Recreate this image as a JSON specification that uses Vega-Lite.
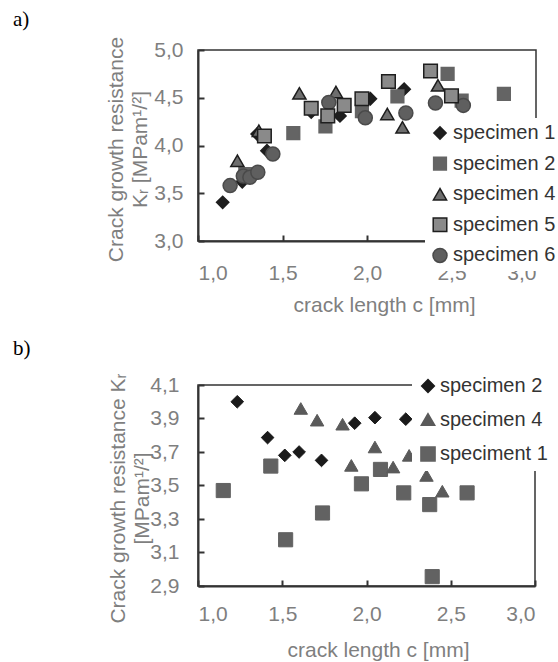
{
  "$schema": "https://vega.github.io/schema/vega-lite/v6.json",
  "padding": {"left": 12, "top": 8, "right": 0, "bottom": 0},
  "background": "white",
  "config": {
    "view": {"stroke": "#333333", "strokeWidth": 1.5},
    "font": "Liberation Sans",
    "axis": {
      "grid": false,
      "domainColor": "#333333",
      "domainWidth": 2,
      "tickColor": "#333333",
      "tickWidth": 2,
      "tickSize": -6,
      "labelColor": "#7f7f7f",
      "labelFontSize": 21,
      "labelFont": "Liberation Sans",
      "titleColor": "#7f7f7f",
      "titleFontSize": 21,
      "titleFont": "Liberation Sans",
      "titleFontWeight": "normal"
    },
    "legend": {
      "fillColor": "white",
      "zindex": 1,
      "labelFontSize": 20,
      "labelFont": "Liberation Sans",
      "labelColor": "#333333",
      "symbolStrokeWidth": 1.5
    }
  },
  "align": "none",
  "spacing": 21,
  "resolve": {
    "scale": {"fill": "independent", "stroke": "independent", "shape": "independent", "size": "independent"},
    "legend": {"fill": "independent", "stroke": "independent", "shape": "independent", "size": "independent"}
  },
  "vconcat": [
    {
      "title": {"text": "a)", "anchor": "start", "frame": "group", "dx": -185, "offset": -11, "baseline": "alphabetic", "font": "Liberation Serif", "fontSize": 21, "fontWeight": "normal", "color": "black"},
      "width": 338,
      "height": 191,
      "data": {"values": [
        {"c": 1.146, "k": 3.405, "s": "specimen 1"},
        {"c": 1.262, "k": 3.62, "s": "specimen 1"},
        {"c": 1.35, "k": 4.12, "s": "specimen 1"},
        {"c": 1.408, "k": 3.945, "s": "specimen 1"},
        {"c": 1.67, "k": 4.35, "s": "specimen 1"},
        {"c": 1.84, "k": 4.31, "s": "specimen 1"},
        {"c": 2.02, "k": 4.49, "s": "specimen 1"},
        {"c": 2.22, "k": 4.59, "s": "specimen 1"},
        {"c": 1.28, "k": 3.7, "s": "specimen 2"},
        {"c": 1.564, "k": 4.13, "s": "specimen 2"},
        {"c": 1.754, "k": 4.2, "s": "specimen 2"},
        {"c": 1.97, "k": 4.36, "s": "specimen 2"},
        {"c": 2.18, "k": 4.515, "s": "specimen 2"},
        {"c": 2.477, "k": 4.75, "s": "specimen 2"},
        {"c": 2.56, "k": 4.47, "s": "specimen 2"},
        {"c": 2.81, "k": 4.54, "s": "specimen 2"},
        {"c": 1.233, "k": 3.84, "s": "specimen 4"},
        {"c": 1.36, "k": 4.155, "s": "specimen 4"},
        {"c": 1.6, "k": 4.546, "s": "specimen 4"},
        {"c": 1.816, "k": 4.56, "s": "specimen 4"},
        {"c": 2.12, "k": 4.33, "s": "specimen 4"},
        {"c": 2.21, "k": 4.19, "s": "specimen 4"},
        {"c": 2.42, "k": 4.63, "s": "specimen 4"},
        {"c": 1.19, "k": 3.58, "s": "specimen 6"},
        {"c": 1.268, "k": 3.68, "s": "specimen 6"},
        {"c": 1.307, "k": 3.667, "s": "specimen 6"},
        {"c": 1.354, "k": 3.72, "s": "specimen 6"},
        {"c": 1.443, "k": 3.91, "s": "specimen 6"},
        {"c": 1.774, "k": 4.45, "s": "specimen 6"},
        {"c": 1.99, "k": 4.29, "s": "specimen 6"},
        {"c": 2.23, "k": 4.34, "s": "specimen 6"},
        {"c": 2.405, "k": 4.445, "s": "specimen 6"},
        {"c": 2.57, "k": 4.42, "s": "specimen 6"},
        {"c": 1.393, "k": 4.1, "s": "specimen 5"},
        {"c": 1.67, "k": 4.39, "s": "specimen 5"},
        {"c": 1.768, "k": 4.31, "s": "specimen 5"},
        {"c": 1.865, "k": 4.42, "s": "specimen 5"},
        {"c": 1.97, "k": 4.49, "s": "specimen 5"},
        {"c": 2.127, "k": 4.67, "s": "specimen 5"},
        {"c": 2.376, "k": 4.78, "s": "specimen 5"},
        {"c": 2.5, "k": 4.52, "s": "specimen 5"}
      ]},
      "mark": {"type": "point", "filled": true, "opacity": 1, "strokeWidth": 1.5},
      "encoding": {
        "x": {"field": "c", "type": "quantitative",
          "scale": {"domain": [1, 3], "nice": false, "zero": false},
          "axis": {"values": [1, 1.5, 2, 2.5, 3], "labelExpr": "replace(format(datum.value, '.1f'), '.', ',')", "labelPadding": 27, "title": "crack length c [mm]", "titleX": 186, "titleY": 70, "titleBaseline": "alphabetic", "titleAlign": "center"}},
        "y": {"field": "k", "type": "quantitative",
          "scale": {"domain": [3, 5], "nice": false, "zero": false},
          "axis": {"values": [3, 3.5, 4, 4.5, 5], "labelExpr": "replace(format(datum.value, '.1f'), '.', ',')", "labelPadding": 21, "title": ["Crack growth resistance", "Kᵣ [MPam¹/²]"], "titleX": -82, "titleY": 99, "titleAngle": 270, "titleBaseline": "middle", "titleAlign": "center", "titleLineHeight": 24}},
        "fill": {"field": "s", "type": "nominal",
          "scale": {"domain": ["specimen 1", "specimen 2", "specimen 4", "specimen 5", "specimen 6"], "range": ["#1e1e1e", "#646464", "#6e6e6e", "#8a8a8a", "#5f5f5f"]},
          "legend": {"orient": "none", "title": null, "legendX": 227, "legendY": 68, "padding": 5, "rowPadding": 10.6, "labelOffset": 3}},
        "stroke": {"field": "s", "type": "nominal",
          "scale": {"domain": ["specimen 1", "specimen 2", "specimen 4", "specimen 5", "specimen 6"], "range": ["#1e1e1e", "#646464", "#1e1e1e", "#1e1e1e", "#4a4a4a"]},
          "legend": {"orient": "none", "title": null, "legendX": 227, "legendY": 68, "padding": 5, "rowPadding": 10.6, "labelOffset": 3}},
        "shape": {"field": "s", "type": "nominal",
          "scale": {"domain": ["specimen 1", "specimen 2", "specimen 4", "specimen 5", "specimen 6"], "range": ["diamond", "square", "triangle-up", "square", "circle"]},
          "legend": {"orient": "none", "title": null, "legendX": 227, "legendY": 68, "padding": 5, "rowPadding": 10.6, "labelOffset": 3}},
        "size": {"field": "s", "type": "nominal",
          "scale": {"domain": ["specimen 1", "specimen 2", "specimen 4", "specimen 5", "specimen 6"], "range": [150, 196, 225, 170, 196]},
          "legend": {"orient": "none", "title": null, "legendX": 227, "legendY": 68, "padding": 5, "rowPadding": 10.6, "labelOffset": 3}}
      }
    },
    {
      "title": {"text": "b)", "anchor": "start", "frame": "group", "dx": -185, "offset": -6, "baseline": "alphabetic", "font": "Liberation Serif", "fontSize": 21, "fontWeight": "normal", "color": "black"},
      "width": 337,
      "height": 201,
      "data": {"values": [
        {"c": 1.15, "k": 3.47, "s": "speciment 1"},
        {"c": 1.432, "k": 3.616, "s": "speciment 1"},
        {"c": 1.52, "k": 3.176, "s": "speciment 1"},
        {"c": 1.739, "k": 3.336, "s": "speciment 1"},
        {"c": 1.97, "k": 3.51, "s": "speciment 1"},
        {"c": 2.083, "k": 3.596, "s": "speciment 1"},
        {"c": 2.221, "k": 3.456, "s": "speciment 1"},
        {"c": 2.375, "k": 3.386, "s": "speciment 1"},
        {"c": 2.39, "k": 2.956, "s": "speciment 1"},
        {"c": 2.597, "k": 3.456, "s": "speciment 1"},
        {"c": 1.61, "k": 3.96, "s": "specimen 4"},
        {"c": 1.707, "k": 3.89, "s": "specimen 4"},
        {"c": 1.858, "k": 3.866, "s": "specimen 4"},
        {"c": 1.91, "k": 3.62, "s": "specimen 4"},
        {"c": 2.05, "k": 3.73, "s": "specimen 4"},
        {"c": 2.158, "k": 3.61, "s": "specimen 4"},
        {"c": 2.253, "k": 3.68, "s": "specimen 4"},
        {"c": 2.356, "k": 3.56, "s": "specimen 4"},
        {"c": 2.45, "k": 3.466, "s": "specimen 4"},
        {"c": 1.233, "k": 4.0, "s": "specimen 2"},
        {"c": 1.413, "k": 3.786, "s": "specimen 2"},
        {"c": 1.515, "k": 3.68, "s": "specimen 2"},
        {"c": 1.6, "k": 3.7, "s": "specimen 2"},
        {"c": 1.733, "k": 3.65, "s": "specimen 2"},
        {"c": 1.93, "k": 3.872, "s": "specimen 2"},
        {"c": 2.05, "k": 3.905, "s": "specimen 2"},
        {"c": 2.233, "k": 3.896, "s": "specimen 2"}
      ]},
      "mark": {"type": "point", "filled": true, "opacity": 1, "strokeWidth": 1},
      "encoding": {
        "x": {"field": "c", "type": "quantitative",
          "scale": {"domain": [1, 3], "nice": false, "zero": false},
          "axis": {"values": [1, 1.5, 2, 2.5, 3], "labelExpr": "replace(format(datum.value, '.1f'), '.', ',')", "labelPadding": 23, "title": "crack length c [mm]", "titleX": 180, "titleY": 70, "titleBaseline": "alphabetic", "titleAlign": "center"}},
        "y": {"field": "k", "type": "quantitative",
          "scale": {"domain": [2.9, 4.1], "nice": false, "zero": false},
          "axis": {"values": [2.9, 3.1, 3.3, 3.5, 3.7, 3.9, 4.1], "labelExpr": "replace(format(datum.value, '.1f'), '.', ',')", "labelPadding": 25, "title": ["Crack growth resistance Kᵣ", "[MPam¹/²]"], "titleX": -80, "titleY": 113, "titleAngle": 270, "titleBaseline": "middle", "titleAlign": "center", "titleLineHeight": 24}},
        "fill": {"field": "s", "type": "nominal",
          "scale": {"domain": ["specimen 2", "specimen 4", "speciment 1"], "range": ["#1a1a1a", "#5a5a5a", "#626262"]},
          "legend": {"orient": "none", "title": null, "legendX": 214, "legendY": -15, "padding": 6, "rowPadding": 13.5, "labelOffset": 2}},
        "stroke": {"field": "s", "type": "nominal",
          "scale": {"domain": ["specimen 2", "specimen 4", "speciment 1"], "range": ["#1a1a1a", "#5a5a5a", "#626262"]},
          "legend": {"orient": "none", "title": null, "legendX": 214, "legendY": -15, "padding": 6, "rowPadding": 13.5, "labelOffset": 2}},
        "shape": {"field": "s", "type": "nominal",
          "scale": {"domain": ["specimen 2", "specimen 4", "speciment 1"], "range": ["diamond", "triangle-up", "square"]},
          "legend": {"orient": "none", "title": null, "legendX": 214, "legendY": -15, "padding": 6, "rowPadding": 13.5, "labelOffset": 2}},
        "size": {"field": "s", "type": "nominal",
          "scale": {"domain": ["specimen 2", "specimen 4", "speciment 1"], "range": [160, 200, 225]},
          "legend": {"orient": "none", "title": null, "legendX": 214, "legendY": -15, "padding": 6, "rowPadding": 13.5, "labelOffset": 2}}
      }
    }
  ]
}
